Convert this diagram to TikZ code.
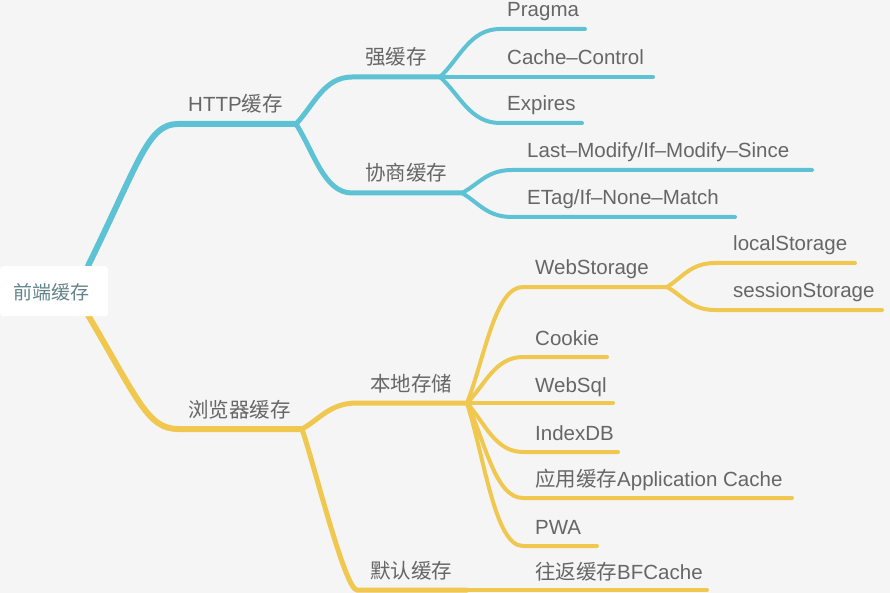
\documentclass[tikz,border=0pt]{standalone}
\usepackage{fontspec}
\setmainfont{Liberation Sans}
\newfontfamily\cjk{Noto Sans CJK SC}
\newcommand\zh[1]{{\cjk #1}}
\definecolor{bgc}{HTML}{F5F5F5}
\definecolor{bluel}{HTML}{5EC2D5}
\definecolor{yell}{HTML}{F0C850}
\definecolor{txt}{HTML}{666666}
\definecolor{roottxt}{HTML}{63838A}
\begin{document}
\begin{tikzpicture}[x=1pt,y=-1pt,
  lbl/.style={anchor=base west, inner sep=0pt, font=\fontsize{20.5}{24}\selectfont, text=txt},
  bA/.style={draw=bluel, line width=6pt, line cap=round},
  bB/.style={draw=bluel, line width=5pt, line cap=round},
  bC/.style={draw=bluel, line width=4pt, line cap=round},
  yA/.style={draw=yell, line width=6pt, line cap=round},
  yB/.style={draw=yell, line width=5pt, line cap=round},
  yC/.style={draw=yell, line width=4pt, line cap=round},
  rootbox/.style={fill=white, rounded corners=3pt, minimum width=108pt, minimum height=50pt, inner sep=0pt, anchor=north west}
]
\fill[bgc] (0,0) rectangle (890,593);
\useasboundingbox (0,0) rectangle (890,593);

% ---------- coordinates ----------
\coordinate (ra) at (88,266);
\coordinate (rb) at (88,315);
% blue
\coordinate (hS) at (178,124); \coordinate (hJ) at (296,124);
\coordinate (qS) at (352,77);  \coordinate (qJ) at (440,77);
\coordinate (xS) at (352,193); \coordinate (xJ) at (462,193);
\coordinate (pS) at (500,29);  \coordinate (pE) at (585,29);
\coordinate (ccE) at (653,77);
\coordinate (eS) at (500,123); \coordinate (eE) at (582,123);
\coordinate (lS) at (512,170); \coordinate (lE) at (812,170);
\coordinate (tS) at (512,217); \coordinate (tE) at (735,217);
% yellow
\coordinate (bS) at (178,429); \coordinate (bJ) at (302,429);
\coordinate (dS) at (357,403); \coordinate (dJ) at (467,403);
\coordinate (mS) at (357,590); \coordinate (mJ) at (467,590); \coordinate (bfE) at (707,590);
\coordinate (wS) at (523,287); \coordinate (wJ) at (667,287);
\coordinate (lsS) at (715,263); \coordinate (lsE) at (855,263);
\coordinate (ssS) at (715,310); \coordinate (ssE) at (882,310);
\coordinate (cS) at (523,357);  \coordinate (cE) at (607,357);
\coordinate (sqE) at (613,403);
\coordinate (iS) at (523,452);  \coordinate (iE) at (618,452);
\coordinate (aS) at (523,498);  \coordinate (aE) at (792,498);
\coordinate (pwS) at (523,546); \coordinate (pwE) at (597,546);

% ---------- blue connectors ----------
\draw[bA] (ra) .. controls (140,160) and (148,124) .. (hS) -- (hJ);
\draw[bB] (hJ) .. controls +(18,-19) and +(-28,0) .. (qS) -- (qJ);
\draw[bB] (hJ) .. controls +(18,28) and +(-28,0) .. (xS) -- (xJ);
\draw[bC] (qJ) .. controls +(20,-19) and +(-30,0) .. (pS) -- (pE);
\draw[bC] (qJ) -- (ccE);
\draw[bC] (qJ) .. controls +(20,18) and +(-30,0) .. (eS) -- (eE);
\draw[bC] (xJ) .. controls +(17,-9) and +(-25,0) .. (lS) -- (lE);
\draw[bC] (xJ) .. controls +(17,10) and +(-25,0) .. (tS) -- (tE);

% ---------- yellow connectors ----------
\draw[yA] (rb) .. controls (138,400) and (148,429) .. (bS) -- (bJ);
\draw[yB] (bJ) .. controls +(18,-10) and +(-27,0) .. (dS) -- (dJ);
\draw[yB] (bJ) .. controls +(12,35) and +(-12,0) .. (mS) -- (mJ);
\draw[yC] (mJ) -- (bfE);
\draw[yC] (dJ) .. controls +(18,-46) and +(-28,0) .. (wS) -- (wJ);
\draw[yC] (wJ) .. controls +(16,-10) and +(-24,0) .. (lsS) -- (lsE);
\draw[yC] (wJ) .. controls +(16,9) and +(-24,0) .. (ssS) -- (ssE);
\draw[yC] (dJ) .. controls +(18,-18) and +(-28,0) .. (cS) -- (cE);
\draw[yC] (dJ) -- (sqE);
\draw[yC] (dJ) .. controls +(18,20) and +(-28,0) .. (iS) -- (iE);
\draw[yC] (dJ) .. controls +(18,38) and +(-28,0) .. (aS) -- (aE);
\draw[yC] (dJ) .. controls +(18,57) and +(-28,0) .. (pwS) -- (pwE);

% ---------- root ----------
\node[rootbox] (rootbg) at (0,266) {};
\node[inner sep=0pt, text=roottxt, font=\fontsize{19}{22}\selectfont\cjk] (root) at (51,292) {前端缓存};

% ---------- labels ----------
\node[lbl] (http) at (188,112) {HTTP\zh{缓存}};
\node[lbl] (browser) at (188,417) {\zh{浏览器缓存}};
\node[lbl] (strong) at (365,65) {\zh{强缓存}};
\node[lbl] (nego) at (365,181) {\zh{协商缓存}};
\node[lbl] (local) at (370,391) {\zh{本地存储}};
\node[lbl] (default) at (370,578) {\zh{默认缓存}};
\node[lbl] (pragma) at (507,17) {Pragma};
\node[lbl] (cc) at (507,65) {Cache–Control};
\node[lbl] (expires) at (507,111) {Expires};
\node[lbl] (lastmod) at (527,158) {Last–Modify/If–Modify–Since};
\node[lbl] (etag) at (527,205) {ETag/If–None–Match};
\node[lbl] (webst) at (535,275) {WebStorage};
\node[lbl] (localst) at (733,251) {localStorage};
\node[lbl] (sessst) at (733,298) {sessionStorage};
\node[lbl] (cookie) at (535,345) {Cookie};
\node[lbl] (websql) at (535,392) {WebSql};
\node[lbl] (indexdb) at (535,440) {IndexDB};
\node[lbl] (appc) at (535,486) {\zh{应用缓存}Application Cache};
\node[lbl] (pwa) at (535,534) {PWA};
\node[lbl] (bfc) at (535,579) {\zh{往返缓存}BFCache};
\end{tikzpicture}
\end{document}
